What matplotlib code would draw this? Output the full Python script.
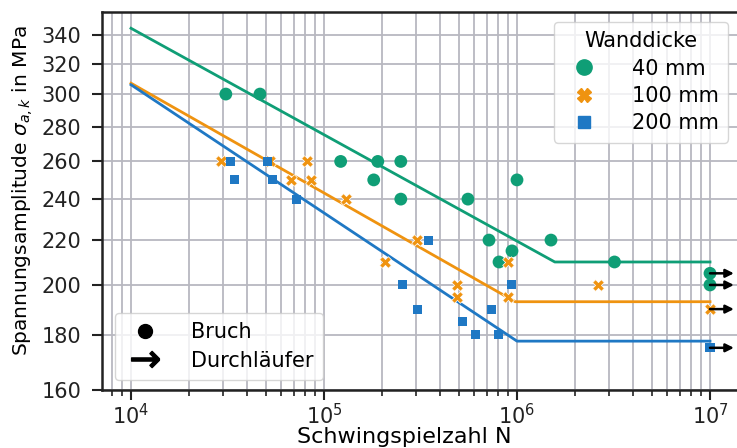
import numpy as np
import matplotlib
matplotlib.use("Agg")
import matplotlib.pyplot as plt
from matplotlib.lines import Line2D
from matplotlib.ticker import FixedLocator, NullLocator, FixedFormatter

# ---- data ----
n40 = [31000, 46600, 122000, 190000, 181000, 250000, 250000, 557000, 716000, 807000, 942000, 1.0e6, 1.5e6, 3.2e6]
s40 = [300, 300, 260, 260, 250, 260, 240, 240, 220, 210, 215, 250, 220, 210]
n40_run = [1.0e7, 1.0e7]
s40_run = [205, 200]

n100 = [29200, 52500, 81700, 67500, 85800, 130000, 207000, 304000, 489000, 489000, 898000, 898000, 2.63e6]
s100 = [260, 260, 260, 250, 250, 240, 210, 220, 200, 195, 210, 195, 200]
n100_run = [1.0e7]
s100_run = [190]

n200 = [32600, 34200, 50700, 53800, 72400, 346000, 256000, 304000, 525000, 606000, 741000, 798000, 931000]
s200 = [260, 250, 260, 250, 240, 220, 200, 190, 185, 180, 190, 180, 200]
n200_run = [1.0e7]
s200_run = [175]

line40_n = [1.0e4, 1.57e6, 1.0e7]
line40_s = [345, 210, 210]
line100_n = [1.0e4, 9.8e5, 1.0e7]
line100_s = [307, 193, 193]
line200_n = [1.0e4, 1.0e6, 1.0e7]
line200_s = [306, 177.5, 177.5]

labels = ["40 mm", "100 mm", "200 mm"]
yticks = [160, 180, 200, 220, 240, 260, 280, 300, 320, 340]

c_green = "#0f9e76"
c_orange = "#ef9310"
c_blue = "#1f78c4"

plt.rcParams["font.size"] = 15
fig = plt.figure(figsize=(7.37, 4.48), dpi=100)
W, H = 737, 448
AX_R = 760
ax = fig.add_axes([102 / W, (H - 390) / H, (AX_R - 102) / W, (390 - 12) / H])
ax.set_xscale("log")
ax.set_yscale("log")

x_left = 10 ** (4 - 29 / 193)
x_right = 10 ** (4 + (AX_R - 131) / 193)
ax.set_xlim(x_left, x_right)
ax.set_ylim(160, 10 ** (np.log10(160) + 378 / 1084))

ax.yaxis.set_major_locator(FixedLocator(yticks))
ax.yaxis.set_major_formatter(FixedFormatter([str(t) for t in yticks]))
ax.yaxis.set_minor_locator(NullLocator())

ax.grid(True, which="major", axis="both", color="#b8b8c0", lw=1.3, zorder=0)
ax.grid(True, which="minor", axis="x", color="#b8b8c0", lw=1.3, zorder=0)
ax.set_axisbelow(True)

for sp in ax.spines.values():
    sp.set_linewidth(1.8)
    sp.set_color("#222222")
ax.tick_params(which="major", length=7, width=1.5, colors="#222222", labelcolor="#222222")
ax.tick_params(axis="y", which="major", pad=8)
ax.tick_params(axis="x", which="major", pad=2)
ax.tick_params(which="minor", length=4, width=1.2, colors="#222222")

# lines
ax.plot(line40_n, line40_s, color=c_green, lw=2, zorder=2)
ax.plot(line100_n, line100_s, color=c_orange, lw=2, zorder=2)
ax.plot(line200_n, line200_s, color=c_blue, lw=2, zorder=2)

# points
ax.scatter(n40 + n40_run, s40 + s40_run, marker="o", s=85, color=c_green, edgecolor="none", zorder=3)
ax.scatter(n100 + n100_run, s100 + s100_run, marker="X", s=70, color=c_orange, edgecolor="white", linewidth=0.5, zorder=3)
ax.scatter(n200 + n200_run, s200 + s200_run, marker="s", s=42, color=c_blue, edgecolor="none", zorder=3)

# run-out arrows
for nn, ss in zip(n40_run + n100_run + n200_run, s40_run + s100_run + s200_run):
    ax.annotate("", xy=(nn * 1.33, ss), xytext=(nn, ss),
                arrowprops=dict(arrowstyle="-|>", color="black", lw=1.8, mutation_scale=12,
                                shrinkA=0, shrinkB=0), zorder=4)

ax.set_xlabel("Schwingspielzahl N", fontsize=16)
ax.xaxis.set_label_coords((404 - 102) / (AX_R - 102), -(447 - 390) / 378)
ax.xaxis.label.set_va("bottom")
ax.set_ylabel(r"Spannungsamplitude $\sigma_{a,k}$ in MPa", fontsize=14.5)
ax.yaxis.set_label_coords(-(102 - 35) / (AX_R - 102), (390 - 191) / 378)

# legends
h1 = [Line2D([], [], ls="", marker="o", color=c_green, markersize=11),
      Line2D([], [], ls="", marker="X", color=c_orange, markersize=10),
      Line2D([], [], ls="", marker="s", color=c_blue, markersize=9)]
leg1 = ax.legend(h1, labels, title="Wanddicke", loc="upper right",
                 bbox_to_anchor=((728 - 102) / (AX_R - 102), 1 - 10 / 378),
                 borderaxespad=0, fontsize=15, title_fontsize=15,
                 handletextpad=1.3, labelspacing=0.35, borderpad=0.45,
                 framealpha=0.8, edgecolor="#cccccc", fancybox=True)
ax.add_artist(leg1)

h2 = [Line2D([], [], ls="", marker="o", color="black", markersize=10),
      Line2D([], [], ls="", marker=r"$\rightarrow$", color="black", markersize=20)]
ax.legend(h2, ["Bruch", "Durchläufer"], loc="lower left",
          bbox_to_anchor=((115 - 102) / (AX_R - 102), 10 / 378),
          borderaxespad=0, fontsize=15, handletextpad=1.2, labelspacing=0.4,
          borderpad=0.45, framealpha=0.8, edgecolor="#cccccc", fancybox=True)

fig.savefig("out.png", dpi=100)
